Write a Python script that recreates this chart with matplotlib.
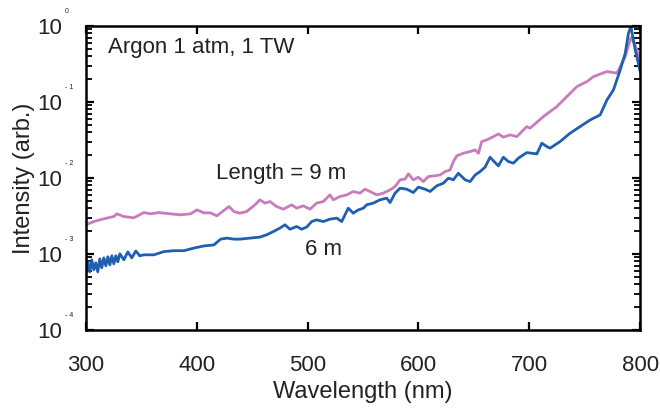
import numpy as np
import matplotlib.pyplot as plt
from matplotlib.ticker import LogLocator, NullFormatter, FixedLocator

plt.rcParams['font.family'] = ['Liberation Sans', 'DejaVu Sans']

# 9 m spectrum (pink)
wl_9m = [300, 307.2, 316.2, 325.3, 328.0, 334.3, 343.3, 352.3, 358.4, 365.9,
         376.4, 385.5, 394.5, 400.2, 406.5, 412.5, 418.2, 424.5, 429.1, 433.6,
         439.0, 445.0, 452.6, 457.0, 461.6, 466.1, 472.1, 478.1, 485.7, 490.2,
         496.1, 502.2, 508.2, 514.2, 520.2, 523.2, 529.2, 535.3, 541.2, 547.3,
         551.8, 556.3, 562.4, 568.3, 574.4, 578.9, 583.4, 587.9, 590.9, 595.4,
         599.9, 604.4, 608.9, 613.5, 619.5, 624.0, 628.5, 631.5, 634.6, 640.5,
         646.6, 651.1, 654.1, 657.1, 661.6, 667.6, 672.1, 676.6, 682.7, 688.7,
         697.7, 700.7, 712.7, 724.8, 730.8, 742.9, 751.9, 757.9, 770.0, 779.0,
         782.0, 786.5, 789.4, 791.6, 794.6, 798.5, 800]
int_9m = [2.41e-3, 2.66e-3, 2.89e-3, 3.10e-3, 3.36e-3, 3.10e-3, 2.98e-3, 3.49e-3, 3.36e-3, 3.49e-3,
          3.36e-3, 3.26e-3, 3.36e-3, 3.79e-3, 3.46e-3, 3.46e-3, 3.16e-3, 3.72e-3, 4.19e-3, 3.60e-3,
          3.43e-3, 3.60e-3, 4.42e-3, 5.14e-3, 4.65e-3, 4.88e-3, 4.19e-3, 3.87e-3, 4.42e-3, 3.99e-3,
          4.29e-3, 3.87e-3, 4.65e-3, 4.88e-3, 5.97e-3, 5.14e-3, 5.68e-3, 5.97e-3, 6.61e-3, 6.29e-3,
          7.10e-3, 6.61e-3, 5.97e-3, 6.29e-3, 6.95e-3, 7.69e-3, 9.42e-3, 9.62e-3, 1.13e-2, 9.42e-3,
          1.02e-2, 8.93e-3, 1.04e-2, 1.06e-2, 1.09e-2, 1.21e-2, 1.27e-2, 1.64e-2, 1.95e-2, 2.11e-2,
          2.22e-2, 2.33e-2, 2.11e-2, 3.01e-2, 3.16e-2, 3.49e-2, 3.79e-2, 3.43e-2, 3.68e-2, 3.49e-2,
          4.73e-2, 4.51e-2, 6.41e-2, 8.67e-2, 0.106, 0.159, 0.185, 0.215, 0.251, 0.239,
          0.291, 0.394, 0.55, 0.70, 0.60, 0.415, 0.357]

# 6 m spectrum (blue)
wl_6m = [300, 301.8, 303.6, 305.4, 307.2, 309.0, 310.8, 312.6, 314.4, 316.2,
         318.1, 319.9, 321.7, 323.5, 325.3, 327.1, 328.9, 330.7, 334.3, 337.9,
         341.5, 345.1, 348.7, 352.3, 361.4, 370.4, 379.4,
         388.4, 397.5, 406.5, 415.5, 421.6, 427.3, 433.6, 439.0, 448.0, 457.0,
         463.1, 469.0, 475.1, 479.6, 484.1, 490.2, 494.7, 499.2, 503.7, 508.2,
         514.2, 520.2, 526.3, 530.8, 536.7, 541.2, 545.8, 550.3, 553.3, 559.3,
         565.3, 571.4, 574.4, 578.9, 583.4, 589.4, 595.4, 599.9, 605.9, 610.5,
         616.5, 622.5, 627.0, 631.5, 636.0, 642.1, 646.6, 651.1, 655.6, 660.1,
         664.6, 669.1, 672.1, 676.6, 681.1, 685.6, 690.2, 697.7, 706.8, 711.3,
         715.8, 718.8, 727.8, 736.8, 745.8, 754.9, 763.9, 770.0, 775.9, 782.0,
         786.5, 789.4, 791.6, 795.5, 800]
int_6m = [5.46e-4, 7.85e-4, 5.79e-4, 8.34e-4, 6.16e-4, 7.62e-4, 5.79e-4, 8.59e-4, 6.55e-4, 8.85e-4,
          6.96e-4, 9.14e-4, 7.17e-4, 9.42e-4, 7.39e-4, 9.42e-4, 7.85e-4, 1.00e-3, 8.34e-4, 1.06e-3,
          8.85e-4, 1.09e-3, 9.42e-4, 9.70e-4, 9.70e-4, 1.07e-3, 1.10e-3,
          1.10e-3, 1.19e-3, 1.27e-3, 1.31e-3, 1.56e-3, 1.61e-3, 1.56e-3, 1.56e-3, 1.61e-3, 1.66e-3,
          1.78e-3, 1.96e-3, 2.18e-3, 2.41e-3, 2.11e-3, 2.29e-3, 2.11e-3, 2.25e-3, 2.66e-3, 2.80e-3,
          2.66e-3, 2.86e-3, 2.95e-3, 2.66e-3, 3.99e-3, 3.43e-3, 3.79e-3, 3.99e-3, 4.42e-3, 4.65e-3,
          5.14e-3, 5.41e-3, 4.73e-3, 6.29e-3, 7.31e-3, 7.10e-3, 6.41e-3, 7.55e-3, 7.10e-3, 6.61e-3,
          7.85e-3, 8.51e-3, 9.91e-3, 9.42e-3, 1.15e-2, 9.42e-3, 8.93e-3, 1.09e-2, 1.21e-2, 1.38e-2,
          1.87e-2, 1.59e-2, 1.44e-2, 1.87e-2, 1.64e-2, 1.56e-2, 1.82e-2, 2.15e-2, 2.07e-2, 2.86e-2,
          2.58e-2, 2.46e-2, 3.01e-2, 3.87e-2, 4.73e-2, 5.79e-2, 6.75e-2, 0.106, 0.144, 0.264,
          0.438, 0.80, 0.98, 0.483, 0.251]

x_ticks = [300, 400, 500, 600, 700, 800]
y_ticks = [1e-4, 1e-3, 1e-2, 1e-1, 1e0]
y_exps = ['- 4', '- 3', '- 2', '- 1', '0']

fig = plt.figure(figsize=(6.6, 4.18), dpi=100)
ax = fig.add_axes([0.130, 0.211, 0.840, 0.727])

ax.plot(wl_9m, int_9m, color='#c97bbb', lw=2.0)
ax.plot(wl_6m, int_6m, color='#1f5fb0', lw=2.0)

ax.set_yscale('log')
ax.set_xlim(300, 800)
ax.set_ylim(1e-4, 1)

ax.xaxis.set_major_locator(FixedLocator(x_ticks))
ax.yaxis.set_major_locator(FixedLocator(y_ticks))
ax.yaxis.set_minor_locator(LogLocator(base=10, subs=np.arange(2, 10)))
ax.yaxis.set_minor_formatter(NullFormatter())
ax.set_yticklabels(['10'] * len(y_ticks))
ax.set_xticklabels([str(t) for t in x_ticks])

ax.tick_params(which='major', direction='in', length=6, width=1.6,
               top=True, right=True, labelsize=16, labelcolor='#222222')
ax.tick_params(axis='x', pad=18)
ax.tick_params(axis='y', pad=17)
ax.tick_params(which='minor', direction='in', length=4, width=1.3, right=True)
for s in ax.spines.values():
    s.set_linewidth(1.8)

# tiny exponents next to the "10" labels
for t, e in zip(y_ticks, y_exps):
    ax.annotate(e, xy=(0, t), xycoords=('axes fraction', 'data'),
                xytext=(-15, 8), textcoords='offset points', fontsize=5,
                ha='left', va='bottom', color='#222222')

ax.set_xlabel('Wavelength (nm)', fontsize=17, labelpad=4, color='#222222')
ax.set_ylabel('Intensity (arb.)', fontsize=17, labelpad=2, color='#222222')

ax.text(0.04, 0.965, 'Argon 1 atm, 1 TW', transform=ax.transAxes, fontsize=16,
        va='top', color='#222222')
ax.text(0.235, 0.497, 'Length = 9 m', transform=ax.transAxes, fontsize=16, color='#222222')
ax.text(0.395, 0.245, '6 m', transform=ax.transAxes, fontsize=16, color='#222222')

fig.savefig('out.png', dpi=100)
